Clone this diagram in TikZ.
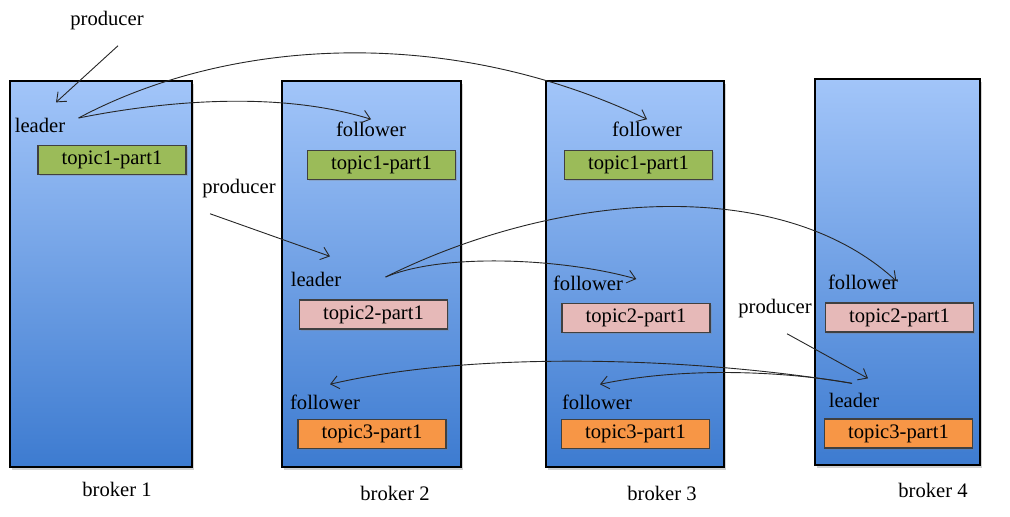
\documentclass[tikz,border=0pt]{standalone}
\usepackage{fontspec}
\setmainfont{Liberation Serif}
\usetikzlibrary{arrows.meta,calc,shadows}
\definecolor{BrokerTop}{HTML}{A2C5F9}
\definecolor{BrokerBot}{HTML}{3D7BD0}
\definecolor{PartGreen}{HTML}{9BBB59}
\definecolor{PartPink}{HTML}{E6B9B8}
\definecolor{PartOrange}{HTML}{F79646}
\tikzset{
  broker/.style={draw=black,line width=1pt,top color=BrokerTop,bottom color=BrokerBot,minimum height=193pt,inner sep=0pt,drop shadow={opacity=.35,shadow xshift=1pt,shadow yshift=-1.5pt}},
  part/.style={draw=black!75,line width=.6pt,minimum width=74pt,minimum height=14.5pt,inner sep=0pt,font=\fontsize{10.3}{12}\selectfont,drop shadow={opacity=.3,shadow xshift=.8pt,shadow yshift=-.8pt}},
  partgreen/.style={part,fill=PartGreen},
  partpink/.style={part,fill=PartPink},
  partorange/.style={part,fill=PartOrange},
  txt/.style={font=\fontsize{10.3}{12}\selectfont,inner sep=1pt},
  arrow/.style={-{Straight Barb[length=4pt,width=6.5pt]},line width=.45pt,draw=black!85}
}
\begin{document}
\begin{tikzpicture}[x=0.5pt,y=-0.5pt]
\useasboundingbox (0,0) rectangle (1010,516);
% brokers
\node[broker,minimum width=91pt] (b1) at (101,274) {};
\node[broker,minimum width=89.5pt] (b2) at (371.5,274) {};
\node[broker,minimum width=89pt] (b3) at (635,274) {};
\node[broker,minimum width=82.5pt] (b4) at (897.5,272) {};
\node[txt] (n1) at (117,489) {broker 1};
\node[txt] (n2) at (395,493) {broker 2};
\node[txt] (n3) at (662,493) {broker 3};
\node[txt] (n4) at (933,490) {broker 4};
% topic1
\node[txt] (prA) at (107,21) {producer};
\node[txt] (ldA) at (40,125) {leader};
\node[partgreen] (tA1) at (112,160) {topic1-part1};
\node[txt] (fwA2) at (371,129) {follower};
\node[partgreen] (tA2) at (381.5,165) {topic1-part1};
\node[txt] (fwA3) at (647,129) {follower};
\node[partgreen] (tA3) at (638.5,165) {topic1-part1};
% topic2
\node[txt] (prB) at (239,189) {producer};
\node[txt] (ldB) at (316,279) {leader};
\node[partpink] (tB2) at (373.5,314.5) {topic2-part1};
\node[txt] (fwB3) at (588,283) {follower};
\node[partpink] (tB3) at (636,318) {topic2-part1};
\node[txt] (fwB4) at (863,282) {follower};
\node[partpink] (tB4) at (899.5,317.5) {topic2-part1};
% topic3
\node[txt] (prC) at (775,309) {producer};
\node[txt] (fwC2) at (325,402) {follower};
\node[partorange] (tC2) at (372,434) {topic3-part1};
\node[txt] (fwC3) at (597,402) {follower};
\node[partorange] (tC3) at (635.5,434) {topic3-part1};
\node[txt] (ldC) at (854,400) {leader};
\node[partorange] (tC4) at (898.5,433.5) {topic3-part1};
% replication arrows
\draw[arrow] ($(prA.south)+(11,13)$) -- ($(ldA.north)+(16,-13)$);
\draw[arrow] ($(ldA.east)+(11,-7)$) .. controls +(90,-18) and +(-90,-28) .. (fwA2.north);
\draw[arrow] ($(ldA.east)+(11,-7)$) .. controls +(150,-80) and +(-200,-95) .. (fwA3.north);
\draw[arrow] ($(prB.south)+(-29,13)$) -- ($(ldB.north)+(14,-13)$);
\draw[arrow] ($(ldB.east)+(42,-2)$) .. controls +(60,-25) and +(-70,-20) .. ($(fwB3.east)+(11,-4)$);
\draw[arrow] ($(ldB.east)+(42,-2)$) .. controls +(175,-87) and +(-115,-106) .. ($(fwB4.east)+(-4,-1)$);
\draw[arrow] ($(prC.south)+(12,13)$) -- ($(ldC.north)+(14,-12)$);
\draw[arrow] ($(ldC.north)+(-2,-7)$) .. controls +(-150,-25) and +(150,-35) .. ($(fwC2.north)+(5,-8)$);
\draw[arrow] ($(ldC.north)+(-2,-7)$) .. controls +(-72,-13) and +(80,-17) .. ($(fwC3.north)+(3,-8)$);
\end{tikzpicture}
\end{document}
